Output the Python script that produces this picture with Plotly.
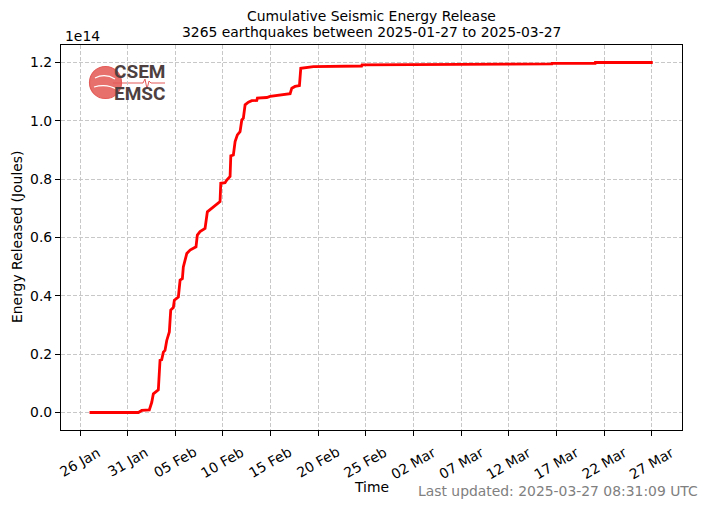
import plotly.graph_objects as go

# cumulative energy (units of 1e14 J)
times = [
    "2025-01-27 00:00", "2025-02-01 03:00", "2025-02-01 11:30", "2025-02-02 06:30",
    "2025-02-02 12:40", "2025-02-02 16:40", "2025-02-03 05:15", "2025-02-03 09:30",
    "2025-02-03 13:45", "2025-02-03 17:50", "2025-02-03 22:00", "2025-02-04 02:25",
    "2025-02-04 08:55", "2025-02-04 12:25", "2025-02-04 19:00", "2025-02-04 21:35",
    "2025-02-05 07:40", "2025-02-05 12:00", "2025-02-05 17:45", "2025-02-05 20:10",
    "2025-02-06 04:50", "2025-02-06 13:10", "2025-02-07 04:05", "2025-02-07 07:25",
    "2025-02-07 14:15", "2025-02-08 02:50", "2025-02-08 08:40", "2025-02-08 19:40",
    "2025-02-09 08:20", "2025-02-09 16:35", "2025-02-09 18:25", "2025-02-10 05:15",
    "2025-02-10 09:35", "2025-02-10 17:50", "2025-02-10 19:40", "2025-02-11 02:10",
    "2025-02-11 06:30", "2025-02-11 12:15", "2025-02-11 19:00", "2025-02-11 23:20",
    "2025-02-12 03:20", "2025-02-12 07:40", "2025-02-12 15:55", "2025-02-13 00:30",
    "2025-02-13 13:10", "2025-02-13 14:35", "2025-02-14 14:10", "2025-02-14 22:35",
    "2025-02-17 01:00", "2025-02-17 05:15", "2025-02-17 13:30", "2025-02-18 00:30",
    "2025-02-18 03:50", "2025-02-19 11:45", "2025-02-24 13:00", "2025-02-24 14:00",
    "2025-03-16 12:00", "2025-03-16 12:30", "2025-03-21 01:00", "2025-03-21 01:30",
    "2025-03-27 02:00",
]
energy_1e14 = [
    0.0, 0.0, 0.007, 0.009,
    0.035, 0.064, 0.078, 0.179,
    0.181, 0.207, 0.213, 0.247,
    0.276, 0.351, 0.360, 0.385,
    0.396, 0.454, 0.459, 0.499,
    0.545, 0.557, 0.568, 0.608,
    0.620, 0.631, 0.688, 0.700,
    0.711, 0.723, 0.786, 0.788,
    0.797, 0.809, 0.880, 0.883,
    0.929, 0.952, 0.963, 1.003,
    1.009, 1.055, 1.064, 1.069,
    1.070, 1.078, 1.080, 1.084,
    1.093, 1.112, 1.118, 1.121,
    1.180, 1.186, 1.188, 1.192,
    1.195, 1.197, 1.197, 1.200,
    1.200,
]

x_ticks = ["2025-01-26", "2025-01-31", "2025-02-05", "2025-02-10", "2025-02-15",
           "2025-02-20", "2025-02-25", "2025-03-02", "2025-03-07", "2025-03-12",
           "2025-03-17", "2025-03-22", "2025-03-27"]
x_labels = ["26 Jan", "31 Jan", "05 Feb", "10 Feb", "15 Feb", "20 Feb", "25 Feb",
            "02 Mar", "07 Mar", "12 Mar", "17 Mar", "22 Mar", "27 Mar"]
y_ticks = [0.0, 0.2, 0.4, 0.6, 0.8, 1.0, 1.2]
y_labels = ["0.0", "0.2", "0.4", "0.6", "0.8", "1.0", "1.2"]

FONT = "DejaVu Sans"
FS = 13.9

fig = go.Figure()
fig.add_trace(go.Scatter(x=times, y=energy_1e14, mode="lines",
                         line=dict(color="#ff0000", width=2.8), showlegend=False))

grid = dict(showgrid=True, gridcolor="#c8c8c8", gridwidth=1.1, griddash="4px,2px",
            showline=True, linecolor="black", linewidth=1.1, mirror=True,
            ticks="outside", ticklen=5, tickwidth=1.1, tickcolor="black",
            zeroline=False, tickfont=dict(family=FONT, size=FS, color="black"))

fig.update_xaxes(type="date", range=["2025-01-24 00:10", "2025-03-30 03:40"],
                 tickmode="array", tickvals=x_ticks, showticklabels=False, **grid)
fig.update_yaxes(range=[-0.06, 1.26], tickmode="array", tickvals=y_ticks,
                 ticktext=y_labels, **grid)

annotations = []
# rotated date labels (centred under ticks, like matplotlib rotation=30)
for tv, tl in zip(x_ticks, x_labels):
    annotations.append(dict(x=tv, y=0, xref="x", yref="paper", text=tl, showarrow=False,
                            textangle=-30, xanchor="center", yanchor="top", yshift=-11,
                            font=dict(family=FONT, size=FS, color="black")))

def txt(x, y, s, **kw):
    d = dict(x=x, y=y, xref="paper", yref="paper", text=s, showarrow=False,
             font=dict(family=FONT, size=FS, color=kw.pop("color", "black")))
    d.update(kw)
    annotations.append(d)

txt(0.5, 1.0753, "Cumulative Seismic Energy Release", xanchor="center", yanchor="middle")
txt(0.5, 1.0338, "3265 earthquakes between 2025-01-27 to 2025-03-27",
    xanchor="center", yanchor="middle")
txt(0.0027, 1.0234, "1e14", xanchor="left", yanchor="middle")
txt(0.5, -0.148, "Time", xanchor="center", yanchor="middle")
txt(-0.0709, 0.5013, "Energy Released (Joules)", xanchor="center", yanchor="middle",
    textangle=-90)
txt(1.0295, -0.1584, "Last updated: 2025-03-27 08:31:09 UTC", xanchor="right",
    yanchor="middle", color="#808080")

# CSEM / EMSC logo
logo_font = dict(family="Roboto", size=19, color="#4e4040")
annotations.append(dict(x=0.1265, y=0.9306, xref="paper", yref="paper", text="<b>CSEM</b>",
                        showarrow=False, xanchor="center", yanchor="middle", font=logo_font))
annotations.append(dict(x=0.1265, y=0.8740, xref="paper", yref="paper", text="<b>EMSC</b>",
                        showarrow=False, xanchor="center", yanchor="middle", font=logo_font))

shapes = [
    dict(type="circle", xref="paper", yref="paper", xsizemode="pixel", ysizemode="pixel",
         xanchor=0, yanchor=1, x0=28.5, x1=60.5, y0=-53.5, y1=-21.5,
         fillcolor="#e8706c", line=dict(color="#e35b58", width=1.2), layer="below"),
    dict(type="path", xref="paper", yref="paper", xsizemode="pixel", ysizemode="pixel",
         xanchor=0, yanchor=1, path="M 34,-33 Q 44,-28 54,-34 M 33,-42 Q 46,-38 57,-45",
         line=dict(color="white", width=1.2), layer="below"),
    dict(type="path", xref="paper", yref="paper", xsizemode="pixel", ysizemode="pixel",
         xanchor=0, yanchor=1,
         path="M 52,-38 L 82,-38 L 84,-34 L 86,-44 L 88,-36 L 90,-38 L 104,-38",
         line=dict(color="#e35b58", width=1), layer="below"),
]

# the page body adds an 8px offset, so the figure is 8px smaller and margins shifted
fig.update_layout(width=702, height=501, margin=dict(l=53, r=28, t=37, b=79),
                  plot_bgcolor="white", paper_bgcolor="white",
                  annotations=annotations, shapes=shapes,
                  font=dict(family=FONT, size=FS, color="black"))

fig.write_html("out.html")
